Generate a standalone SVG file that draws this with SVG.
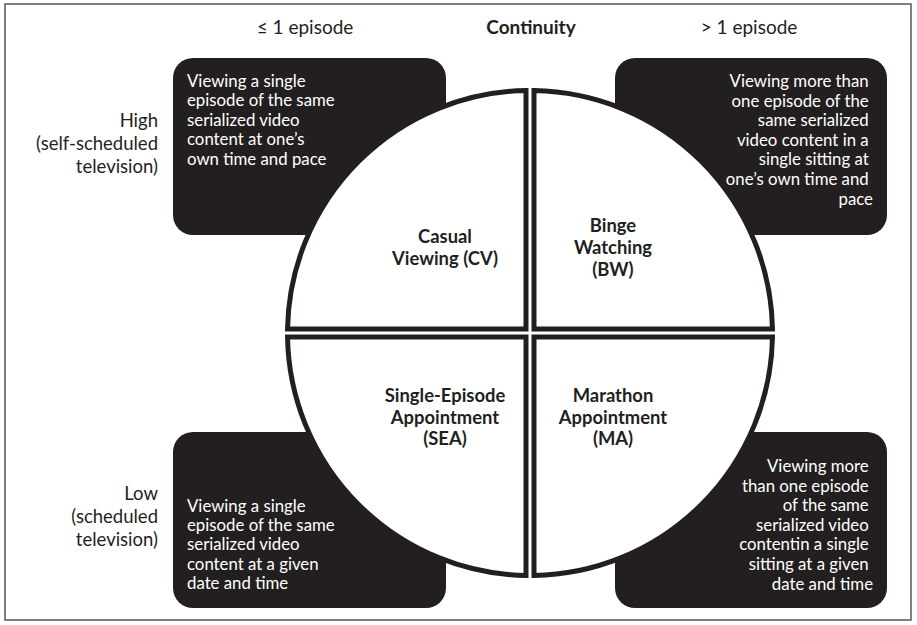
<svg xmlns="http://www.w3.org/2000/svg" width="917" height="625" viewBox="0 0 917 625">
<style>
  .frame { fill: #ffffff; stroke: #555555; stroke-width: 1.5; }
  .box { fill: #231f20; }
  .quad { fill: #ffffff; stroke: #231f20; stroke-width: 5; stroke-linejoin: miter; }
  .desc { font-family: Lato, "Liberation Sans", sans-serif; font-size: 16.8px; fill: #ffffff; }
  .axis { font-family: Lato, "Liberation Sans", sans-serif; font-size: 18.5px; fill: #231f20; }
  .top { font-size: 19px; }
  .label { font-family: Lato, "Liberation Sans", sans-serif; font-size: 18.4px; font-weight: bold; fill: #231f20; text-anchor: middle; }
  .r { text-anchor: end; }
  .m { text-anchor: middle; }
</style>
<rect class="frame" x="5" y="4" width="906" height="616"/>

<g id="axis-labels">
  <text class="axis top m" x="305" y="34">≤ 1 episode</text>
  <text class="axis top m" x="531" y="34" font-weight="bold">Continuity</text>
  <text class="axis top m" x="749" y="34">&gt; 1 episode</text>
  <text class="axis r" x="158" y="127">High</text>
  <text class="axis r" x="158" y="150">(self-scheduled</text>
  <text class="axis r" x="158" y="173">television)</text>
  <text class="axis r" x="158" y="500">Low</text>
  <text class="axis r" x="158" y="523">(scheduled</text>
  <text class="axis r" x="158" y="546">television)</text>
</g>

<g id="box-cv">
  <rect class="box" x="173" y="58" width="273" height="177" rx="20"/>
  <text class="desc" x="187" y="87">
    <tspan x="187" dy="0">Viewing a single</tspan>
    <tspan x="187" dy="19.4">episode of the same</tspan>
    <tspan x="187" dy="19.4">serialized video</tspan>
    <tspan x="187" dy="19.4">content at one’s</tspan>
    <tspan x="187" dy="19.4">own time and pace</tspan>
  </text>
</g>
<g id="box-bw">
  <rect class="box" x="615" y="58" width="272" height="177" rx="20"/>
  <text class="desc r" x="873" y="87">
    <tspan x="873" dy="0">Viewing more than</tspan>
    <tspan x="873" dy="19.6">one episode of the</tspan>
    <tspan x="873" dy="19.6">same serialized</tspan>
    <tspan x="873" dy="19.6">video content in a</tspan>
    <tspan x="873" dy="19.6">single sitting at</tspan>
    <tspan x="873" dy="19.6">one’s own time and</tspan>
    <tspan x="873" dy="19.6">pace</tspan>
  </text>
</g>
<g id="box-sea">
  <rect class="box" x="173" y="432" width="273" height="176" rx="20"/>
  <text class="desc" x="187" y="512">
    <tspan x="187" dy="0">Viewing a single</tspan>
    <tspan x="187" dy="19.2">episode of the same</tspan>
    <tspan x="187" dy="19.2">serialized video</tspan>
    <tspan x="187" dy="19.2">content at a given</tspan>
    <tspan x="187" dy="19.2">date and time</tspan>
  </text>
</g>
<g id="box-ma">
  <rect class="box" x="615" y="432" width="272" height="176" rx="20"/>
  <text class="desc r" x="873" y="472">
    <tspan x="873" dy="0">Viewing more</tspan>
    <tspan x="873" dy="19.6">than one episode</tspan>
    <tspan x="873" dy="19.6">of the same</tspan>
    <tspan x="873" dy="19.6">serialized video</tspan>
    <tspan x="873" dy="19.6">contentin a single </tspan>
    <tspan x="873" dy="19.6">sitting at a given</tspan>
    <tspan x="873" dy="19.6">date and time</tspan>
  </text>
</g>

<g id="quad-cv">
  <path class="quad" d="M526,329 L526,90.53 A242.5,242.5 0 0 0 287.53,329 Z"/>
  <text class="label" x="445" y="243"><tspan x="445" dy="0">Casual</tspan><tspan x="445" dy="22">Viewing (CV)</tspan></text>
</g>
<g id="quad-bw">
  <path class="quad" d="M534,329 L534,90.53 A242.5,242.5 0 0 1 772.47,329 Z"/>
  <text class="label" x="613" y="232"><tspan x="613" dy="0">Binge</tspan><tspan x="613" dy="22">Watching</tspan><tspan x="613" dy="22">(BW)</tspan></text>
</g>
<g id="quad-sea">
  <path class="quad" d="M526,337 L526,575.47 A242.5,242.5 0 0 1 287.53,337 Z"/>
  <text class="label" x="445" y="402"><tspan x="445" dy="0">Single-Episode</tspan><tspan x="445" dy="21.7">Appointment</tspan><tspan x="445" dy="21.7">(SEA)</tspan></text>
</g>
<g id="quad-ma">
  <path class="quad" d="M534,337 L534,575.47 A242.5,242.5 0 0 0 772.47,337 Z"/>
  <text class="label" x="613" y="402"><tspan x="613" dy="0">Marathon</tspan><tspan x="613" dy="21.7">Appointment</tspan><tspan x="613" dy="21.7">(MA)</tspan></text>
</g>
<g id="connectors"></g>
</svg>
